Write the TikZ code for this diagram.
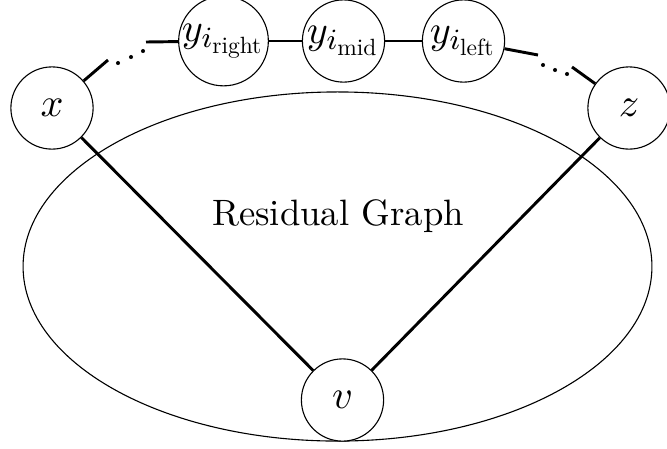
\documentclass[tikz,border=0pt]{standalone}
\usepackage{fontspec}
\newfontfamily\lmten{lmroman10-regular.otf}
\usetikzlibrary{shapes.geometric}
\newcommand{\subtxt}[1]{\mbox{\lmten\fontsize{6.4}{7}\selectfont #1}}
\begin{document}
\begin{tikzpicture}[x=0.2724pt,y=-0.2724pt,
  vtx/.style={circle,draw,line width=0.3pt,minimum size=22.4pt,inner sep=0pt,font=\fontsize{11}{13}\selectfont},
  edge/.style={line width=0.8pt},
  dotmark/.style={circle,fill,inner sep=0pt,minimum size=1.1pt}]
\useasboundingbox (0,0) rectangle (667,448);
% residual graph region
\node[ellipse,draw,line width=0.3pt,minimum width=171.3pt,minimum height=95.1pt,inner sep=0pt] (rg) at (337.5,266.5) {};
\node[anchor=base,font=\fontsize{10}{12}\selectfont] (lbl) at (338,225) {Residual Graph};
% vertices
\node[vtx,fill=white] (x) at (52,108) {$x$};
\node[vtx,fill=white] (z) at (629,108) {$z$};
\node[vtx,fill=white] (v) at (342.5,400) {$v$};
\node[vtx] (yr) at (223.5,41) {$y_{i_{\subtxt{right}}}$};
\node[vtx] (ym) at (343.5,41) {$y_{i_{\subtxt{mid}}}$};
\node[vtx] (yl) at (463.5,41) {$y_{i_{\subtxt{left}}}$};
% helper coordinates for the broken paths
\coordinate (a1) at (108,60);
\coordinate (a2) at (146,42);
\coordinate (b1) at (538,55);
\coordinate (b2) at (572,67);
% edges
\draw[edge] (x) -- (v);
\draw[edge] (z) -- (v);
\draw[edge] (yr) -- (ym);
\draw[edge] (ym) -- (yl);
\draw[edge] (x) -- (a1);
\draw[edge] (a2) -- (yr);
\draw[edge] (yl) -- (b1);
\draw[edge] (b2) -- (z);
% dots
\node[dotmark] (d1) at (118,63) {};
\node[dotmark] (d2) at (131,57) {};
\node[dotmark] (d3) at (143,51) {};
\node[dotmark] (e1) at (543,65) {};
\node[dotmark] (e2) at (555,70) {};
\node[dotmark] (e3) at (567,74) {};
\end{tikzpicture}
\end{document}
